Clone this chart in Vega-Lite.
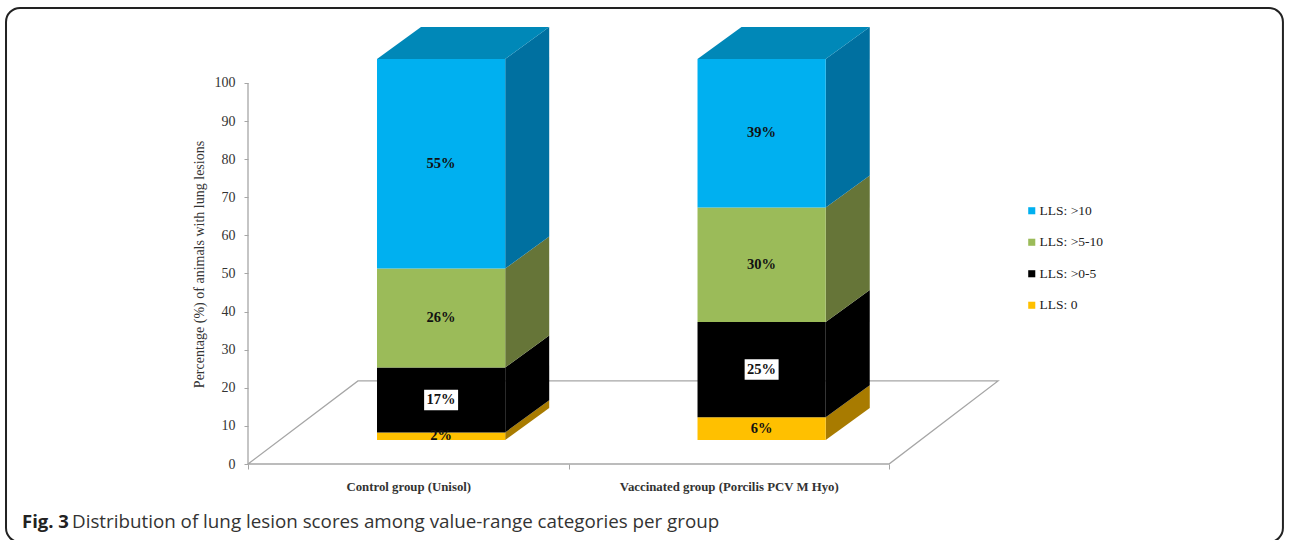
{
  "$schema": "https://vega.github.io/schema/vega-lite/v6.json",
  "width": 750,
  "height": 438,
  "autosize": "none",
  "padding": {"left": 248, "top": 26, "right": 291, "bottom": 76},
  "background": "white",
  "config": {"view": {"stroke": null}},
  "data": {"values": [
    {"group": "Control group (Unisol)", "category": "LLS: 0", "rank": 0, "value": 2},
    {"group": "Control group (Unisol)", "category": "LLS: >0-5", "rank": 1, "value": 17},
    {"group": "Control group (Unisol)", "category": "LLS: >5-10", "rank": 2, "value": 26},
    {"group": "Control group (Unisol)", "category": "LLS: >10", "rank": 3, "value": 55},
    {"group": "Vaccinated group (Porcilis  PCV M Hyo)", "category": "LLS: 0", "rank": 0, "value": 6},
    {"group": "Vaccinated group (Porcilis  PCV M Hyo)", "category": "LLS: >0-5", "rank": 1, "value": 25},
    {"group": "Vaccinated group (Porcilis  PCV M Hyo)", "category": "LLS: >5-10", "rank": 2, "value": 30},
    {"group": "Vaccinated group (Porcilis  PCV M Hyo)", "category": "LLS: >10", "rank": 3, "value": 39}
  ]},
  "transform": [
    {"stack": "value", "groupby": ["group"], "sort": [{"field": "rank", "order": "ascending"}], "as": ["v0", "v1"]},
    {"calculate": "datum.group === 'Control group (Unisol)' ? 0 : 1", "as": "slot"},
    {"calculate": "datum.slot + 0.4025", "as": "left"},
    {"calculate": "datum.left + 0.4", "as": "right"},
    {"calculate": "datum.v0 + 6.3", "as": "lo"},
    {"calculate": "datum.v1 + 6.3", "as": "hi"},
    {"calculate": "(datum.left + datum.right) / 2", "as": "midX"},
    {"calculate": "(datum.lo + datum.hi) / 2", "as": "midY"}
  ],
  "layer": [
    {
      "description": "Rounded card around the figure and its caption",
      "data": {"values": [{}]},
      "mark": {"type": "rect", "fillOpacity": 0, "stroke": "#222222", "strokeWidth": 2, "cornerRadius": 14},
      "encoding": {
        "x": {"datum": -0.755, "type": "quantitative", "scale": {"domain": [0, 2.34], "nice": false, "zero": false},
          "axis": {
            "values": [0, 0.5, 1, 1.5, 2],
            "domain": false, "grid": false, "title": null,
            "tickColor": "#a6a6a6", "tickSize": 5, "tickWidth": 1,
            "tickOpacity": {"condition": {"test": "datum.value % 1 !== 0", "value": 0}, "value": 1},
            "labelExpr": "datum.value === 0.5 ? 'Control group (Unisol)' : datum.value === 1.5 ? 'Vaccinated group (Porcilis  PCV M Hyo)' : ''",
            "labelFont": "Liberation Serif", "labelFontSize": 12.8, "labelFontWeight": "bold", "labelColor": "#333333",
            "labelPadding": 11, "labelOverlap": false, "labelBound": false, "labelFlush": false, "labelLimit": 400
          }},
        "x2": {"datum": 3.229},
        "y": {"datum": 119.7, "type": "quantitative", "scale": {"domain": [0, 114.96], "nice": false, "zero": false},
          "axis": {
            "values": [0, 10, 20, 30, 40, 50, 60, 70, 80, 90, 100],
            "domain": false, "grid": false,
            "title": "Percentage (%) of animals with lung lesions",
            "titleFont": "Liberation Serif", "titleFontSize": 14, "titleFontWeight": "normal", "titleColor": "#333333",
            "titleX": -42, "titleY": 238,
            "tickColor": "#a6a6a6", "tickSize": 4, "tickWidth": 1,
            "labelFont": "Liberation Serif", "labelFontSize": 14, "labelColor": "#333333", "labelPadding": 9
          }},
        "y2": {"datum": -20.5}
      }
    },
    {
      "description": "Floor plane the bars stand on",
      "data": {"values": [
        {"step": 0, "fx": 0, "fy": 0},
        {"step": 1, "fx": 0.343, "fy": 21.8},
        {"step": 2, "fx": 2.34, "fy": 21.8},
        {"step": 3, "fx": 2, "fy": 0},
        {"step": 4, "fx": 0, "fy": 0}
      ]},
      "mark": {"type": "line", "color": "#a6a6a6", "strokeWidth": 1.3},
      "encoding": {
        "x": {"field": "fx", "type": "quantitative"},
        "y": {"field": "fy", "type": "quantitative"},
        "order": {"field": "step", "type": "quantitative"}
      }
    },
    {
      "description": "Vertical axis line, which stops at 100",
      "data": {"values": [{"ax": 0, "ay": 0}, {"ax": 0, "ay": 100}]},
      "mark": {"type": "line", "color": "#a6a6a6", "strokeWidth": 1.3},
      "encoding": {
        "x": {"field": "ax", "type": "quantitative"},
        "y": {"field": "ay", "type": "quantitative"}
      }
    },
    {
      "description": "Right-hand faces of the segments, shaded darker; listed bottom segment first so this scale stays apart from the legend's",
      "transform": [
        {"calculate": "[0, 1]", "as": "t"},
        {"flatten": ["t"]},
        {"calculate": "datum.right + datum.t * 0.1373", "as": "sx"},
        {"calculate": "datum.lo + datum.t * 8.4", "as": "sLo"},
        {"calculate": "datum.hi + datum.t * 8.4", "as": "sHi"}
      ],
      "mark": {"type": "area"},
      "encoding": {
        "x": {"field": "sx", "type": "quantitative"},
        "y": {"field": "sLo", "type": "quantitative"},
        "y2": {"field": "sHi"},
        "detail": {"field": "group"},
        "fill": {"field": "category", "type": "nominal", "legend": null,
          "scale": {"domain": ["LLS: 0", "LLS: >0-5", "LLS: >5-10", "LLS: >10"], "range": ["#A87B00", "#000000", "#667538", "#0070A0"]}}
      }
    },
    {
      "description": "Top face of each bar",
      "transform": [
        {"filter": "datum.category === 'LLS: >10'"},
        {"calculate": "[0, 1, 2, 3]", "as": "corner"},
        {"flatten": ["corner"]},
        {"calculate": "datum.corner === 0 ? datum.left : datum.corner === 1 ? datum.left + 0.1373 : datum.corner === 2 ? datum.right : datum.right + 0.1373", "as": "tx"},
        {"calculate": "datum.corner === 3 ? datum.hi + 8.4 : datum.hi", "as": "tLo"},
        {"calculate": "datum.corner === 0 ? datum.hi : datum.hi + 8.4", "as": "tHi"}
      ],
      "mark": {"type": "area", "color": "#0088B8"},
      "encoding": {
        "x": {"field": "tx", "type": "quantitative"},
        "y": {"field": "tLo", "type": "quantitative"},
        "y2": {"field": "tHi"},
        "detail": {"field": "group"}
      }
    },
    {
      "description": "Front faces of the segments",
      "mark": {"type": "rect"},
      "encoding": {
        "x": {"field": "left", "type": "quantitative"},
        "x2": {"field": "right"},
        "y": {"field": "lo", "type": "quantitative"},
        "y2": {"field": "hi"},
        "color": {"field": "category", "type": "nominal",
          "scale": {"domain": ["LLS: >10", "LLS: >5-10", "LLS: >0-5", "LLS: 0"], "range": ["#00B0F0", "#9BBB59", "#000000", "#FFC000"]},
          "legend": {
            "title": null, "orient": "none", "legendX": 777, "legendY": 178,
            "symbolType": "square", "symbolSize": 50, "symbolStrokeWidth": 0,
            "labelFont": "Liberation Serif", "labelFontSize": 13.5, "labelColor": "#222222", "labelOffset": 1,
            "rowPadding": 16.5
          }}
      }
    },
    {
      "description": "White plate behind the labels on black segments",
      "transform": [
        {"filter": "datum.category === 'LLS: >0-5'"},
        {"calculate": "datum.midX - 0.053", "as": "pL"},
        {"calculate": "datum.midX + 0.053", "as": "pR"},
        {"calculate": "datum.midY - 2.7", "as": "pB"},
        {"calculate": "datum.midY + 2.7", "as": "pT"}
      ],
      "mark": {"type": "rect", "fill": "white"},
      "encoding": {
        "x": {"field": "pL", "type": "quantitative"},
        "x2": {"field": "pR"},
        "y": {"field": "pB", "type": "quantitative"},
        "y2": {"field": "pT"}
      }
    },
    {
      "description": "Percentage labels",
      "transform": [{"calculate": "datum.value + '%'", "as": "pct"}],
      "mark": {"type": "text", "font": "Liberation Serif", "fontSize": 14.5, "fontWeight": "bold", "color": "#111111", "baseline": "middle"},
      "encoding": {
        "x": {"field": "midX", "type": "quantitative"},
        "y": {"field": "midY", "type": "quantitative"},
        "text": {"field": "pct", "type": "nominal"}
      }
    },
    {
      "description": "Caption lead-in",
      "data": {"values": [{"lead": "Fig. 3"}]},
      "mark": {"type": "text", "font": "Open Sans", "fontSize": 18.5, "fontWeight": "bold", "color": "#222222", "align": "left", "baseline": "middle"},
      "encoding": {
        "x": {"datum": -0.705, "type": "quantitative"},
        "y": {"datum": -15.2, "type": "quantitative"},
        "text": {"field": "lead", "type": "nominal"}
      }
    },
    {
      "description": "Caption text",
      "data": {"values": [{"caption": "Distribution of lung lesion scores among value-range categories per group"}]},
      "mark": {"type": "text", "font": "Open Sans", "fontSize": 18.8, "color": "#333333", "align": "left", "baseline": "middle"},
      "encoding": {
        "x": {"datum": -0.549, "type": "quantitative"},
        "y": {"datum": -15.2, "type": "quantitative"},
        "text": {"field": "caption", "type": "nominal"}
      }
    }
  ]
}
